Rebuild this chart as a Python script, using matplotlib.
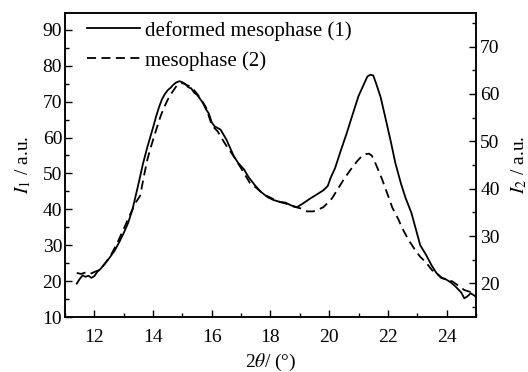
import matplotlib
matplotlib.use("Agg")
import matplotlib.pyplot as plt
from matplotlib.ticker import MultipleLocator

plt.rcParams['font.family'] = ['Liberation Serif', 'DejaVu Serif']
plt.rcParams['mathtext.fontset'] = 'stix'

# curve 1: deformed mesophase (left axis, I1)
x1 = [11.4, 11.5, 11.6, 11.7, 11.8, 11.9, 12.0, 12.1, 12.2, 12.35, 12.5, 12.7,
      12.85, 13.0, 13.15, 13.3, 13.5, 13.65, 13.8, 13.9, 14.0, 14.1, 14.2, 14.3,
      14.4, 14.5, 14.6, 14.7, 14.8, 14.9, 15.0, 15.1, 15.2, 15.3, 15.4, 15.5,
      15.6, 15.7, 15.8, 15.9, 16.0, 16.1, 16.3, 16.5, 16.75, 16.9, 17.1, 17.25,
      17.45, 17.65, 17.9, 18.1, 18.35, 18.5, 18.7, 18.9, 19.1, 19.35, 19.55, 19.8,
      19.95, 20.05, 20.2, 20.4, 20.6, 20.8, 21.0, 21.15, 21.3, 21.4, 21.5, 21.6,
      21.75, 21.9, 22.1, 22.25, 22.45, 22.6, 22.8, 22.95, 23.1, 23.3, 23.5, 23.65,
      23.8, 23.95, 24.15, 24.3, 24.5, 24.6, 24.7, 24.82, 24.92, 25.0]
y1 = [19.3, 20.6, 21.6, 21.2, 21.5, 20.9, 21.4, 22.6, 23.3, 24.8, 26.3, 28.6,
      30.9, 33.4, 36.2, 40.0, 47.0, 52.5, 57.2, 60.0, 62.8, 65.8, 68.4, 70.6,
      72.1, 73.2, 73.9, 74.8, 75.4, 75.7, 75.4, 74.9, 74.0, 73.7, 72.5, 71.9,
      70.8, 69.6, 67.9, 66.7, 64.2, 63.1, 62.2, 59.4, 54.8, 52.9, 51.1, 49.0,
      46.9, 45.0, 43.4, 42.6, 42.0, 41.9, 41.1, 40.6, 41.6, 43.0, 44.0, 45.3,
      46.5, 48.8, 51.5, 56.5, 61.3, 66.5, 71.6, 74.3, 77.0, 77.5, 77.3, 75.0,
      71.3, 66.0, 58.8, 53.0, 47.0, 43.2, 39.0, 34.5, 30.0, 27.3, 24.2, 22.3,
      21.0, 20.6, 19.6, 18.5, 16.8, 15.2, 15.7, 16.6, 16.1, 15.6]

# curve 2: mesophase (right axis, I2)
x2 = [11.4, 11.55, 11.7, 11.85, 12.0, 12.2, 12.4, 12.6, 12.8, 13.0, 13.2, 13.4,
      13.56, 13.7, 13.8, 13.9, 14.0, 14.1, 14.25, 14.35, 14.5, 14.6, 14.7, 14.8,
      14.9, 15.0, 15.15, 15.3, 15.45, 15.6, 15.8, 16.0, 16.2, 16.45, 16.75, 17.0,
      17.3, 17.55, 17.8, 18.0, 18.25, 18.5, 18.8, 19.05, 19.25, 19.45, 19.6, 19.8,
      19.95, 20.1, 20.3, 20.5, 20.75, 20.95, 21.1, 21.25, 21.35, 21.45, 21.6,
      21.8, 22.0, 22.15, 22.35, 22.5, 22.7, 22.9, 23.1, 23.3, 23.5, 23.7, 23.85,
      24.0, 24.2, 24.4, 24.6, 24.8, 24.95]
y2 = [22.2, 22.0, 22.3, 22.0, 22.4, 22.9, 24.5, 26.4, 28.8, 31.5, 34.3, 37.0,
      38.5, 43.0, 46.0, 48.3, 50.3, 52.3, 55.2, 56.8, 58.8, 59.9, 60.8, 61.7,
      62.1, 62.3, 61.9, 61.5, 60.4, 59.2, 57.2, 53.4, 52.1, 49.5, 46.8, 44.3,
      41.2, 40.0, 38.7, 38.1, 37.3, 36.9, 36.2, 35.8, 35.2, 35.2, 35.5, 36.1,
      37.0, 38.0, 40.0, 42.0, 44.2, 45.8, 46.8, 47.3, 47.4, 47.0, 45.0, 42.0,
      38.6, 36.0, 33.6, 31.5, 29.2, 27.3, 25.6, 24.4, 22.8, 21.9, 21.1, 20.8,
      20.4, 19.5, 18.6, 18.2, 17.9]

fig, ax = plt.subplots(figsize=(5.28, 3.72), dpi=100)
fig.subplots_adjust(left=65/528, right=476/528, bottom=1-317/372, top=1-13/372)
ax2 = ax.twinx()

l1, = ax.plot(x1, y1, color='black', lw=1.3, label='deformed mesophase (1)')
l2, = ax2.plot(x2, y2, color='black', lw=1.3, ls=(0, (5, 3)), label='mesophase (2)')

ax.set_xlim(11, 25)
ax.set_ylim(10, 94.7)
ax2.set_ylim(12.9, 77.1)

ax.xaxis.set_major_locator(MultipleLocator(2))
ax.xaxis.set_minor_locator(MultipleLocator(1))
ax.yaxis.set_major_locator(MultipleLocator(10))
ax.yaxis.set_minor_locator(MultipleLocator(5))
ax2.yaxis.set_major_locator(MultipleLocator(10))
ax2.yaxis.set_minor_locator(MultipleLocator(5))

fs = 14
for a in (ax, ax2):
    a.tick_params(which='both', direction='in', labelsize=fs, width=1)
    a.tick_params(which='major', length=5)
    a.tick_params(which='minor', length=3)
    for s in a.spines.values():
        s.set_linewidth(1.1)
ax.tick_params(axis='x', pad=9)
ax.tick_params(axis='y', pad=2)
ax2.tick_params(axis='y', pad=3)

ax.set_xlabel(r'2$\mathit{\theta}$/ (°)', fontsize=fs, labelpad=4)
ax.set_ylabel(r'$\mathit{I}_\mathrm{1}$ / a.u.', fontsize=fs, labelpad=7)
ax2.set_ylabel(r'$\mathit{I}_\mathrm{2}$ / a.u.', fontsize=fs, labelpad=7)

ax.legend(handles=[l1, l2], loc='upper left', frameon=False, fontsize=15,
          handlelength=2.55, handletextpad=0.25, labelspacing=0.5,
          borderaxespad=0.2, bbox_to_anchor=(0.023, 1.016))

fig.savefig('out.png', dpi=100)
